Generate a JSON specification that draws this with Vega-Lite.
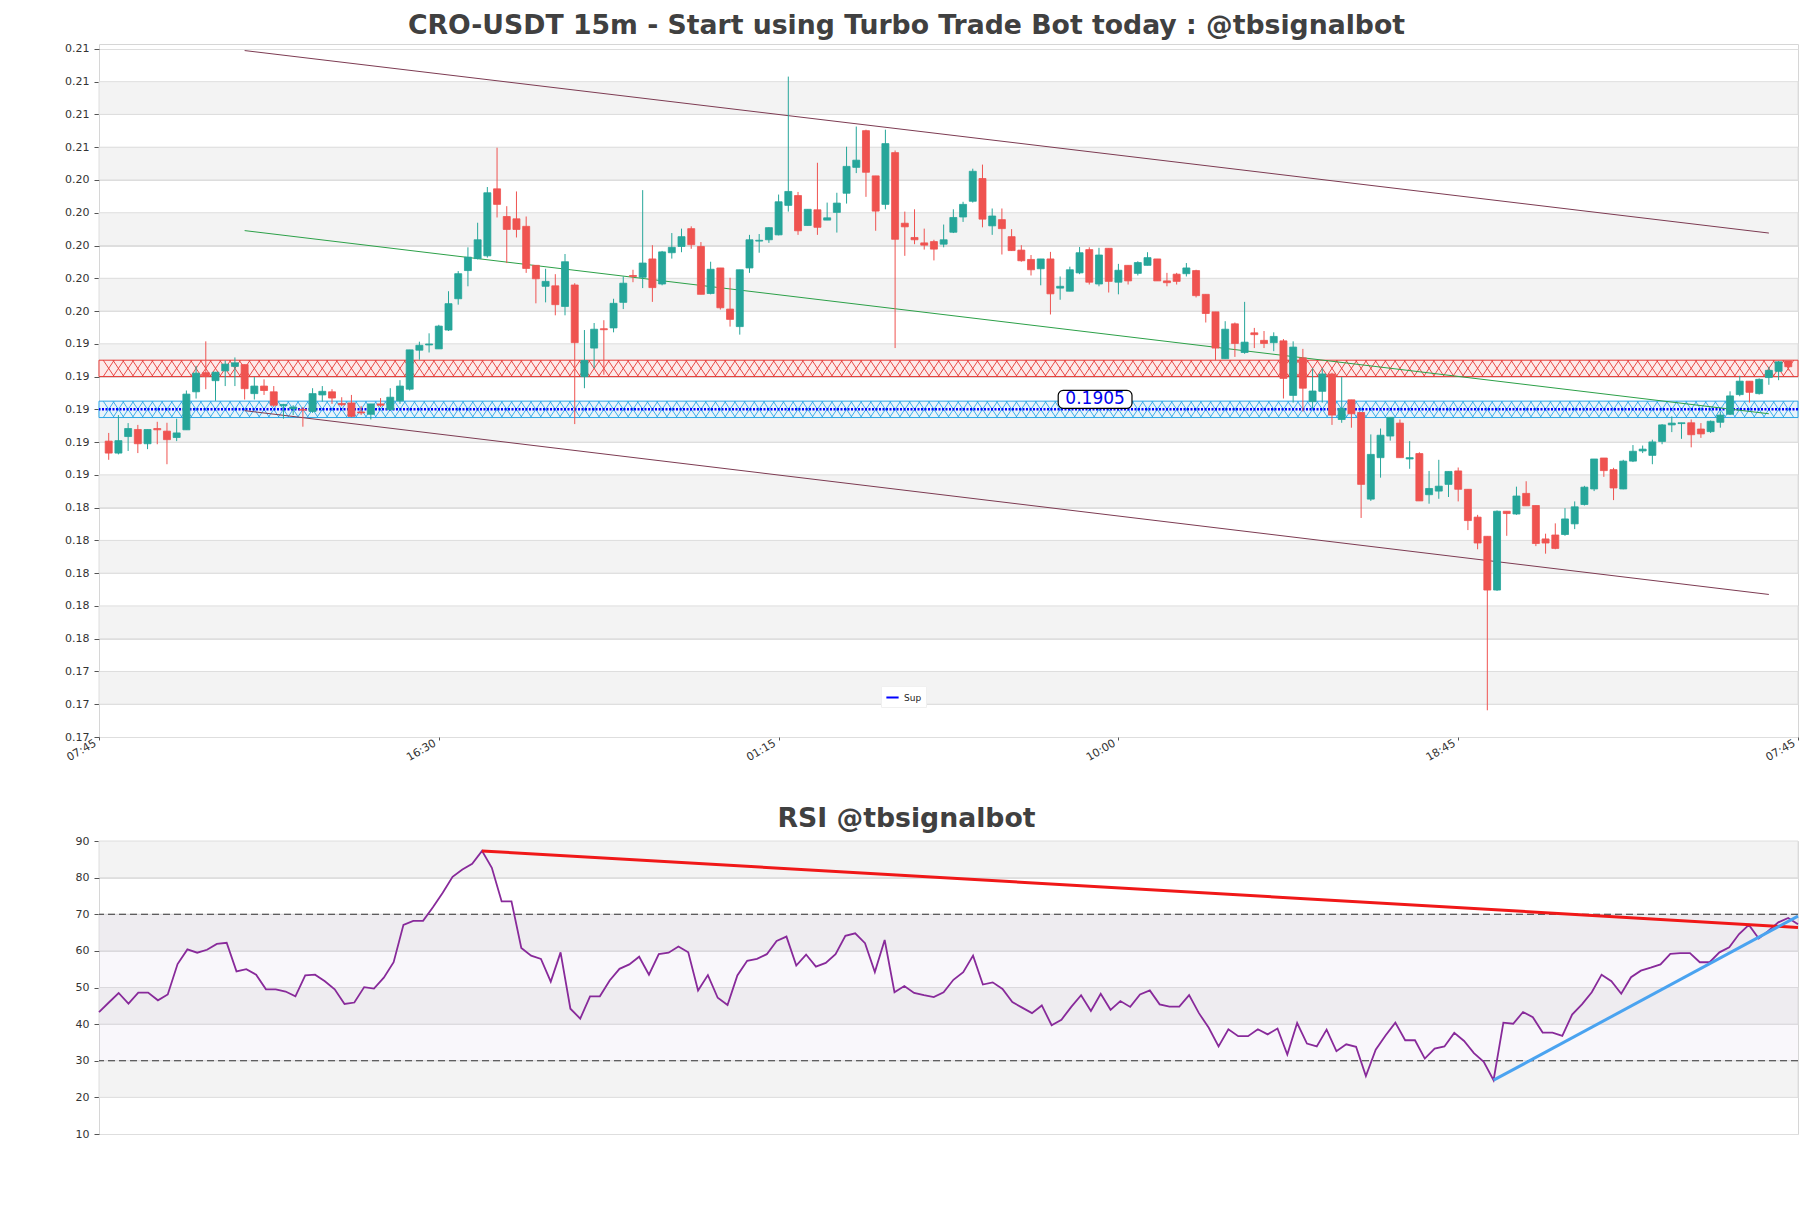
{
"$schema":"https://vega.github.io/schema/vega-lite/v6.json",
"background":"white",
"autosize":{"type":"pad"},
"padding":{"left":58,"top":12,"right":14,"bottom":10},
"bounds":"flush",
"spacing":104,
"config":{
 "font":"DejaVu Sans",
 "view":{"stroke":"#d6d6d6","strokeWidth":1},
 "scale":{"continuousPadding":0},
 "axis":{"labelFont":"DejaVu Sans","labelFontSize":11,"labelColor":"#333333","tickColor":"#555555","tickSize":5,"labelPadding":5,"domain":false,"grid":false,"labelOverlap":false},
 "title":{"font":"DejaVu Sans","fontSize":26.7,"fontWeight":"bold","color":"#404040","anchor":"middle","frame":"group"},
 "legend":{"labelFont":"DejaVu Sans"}
},
"datasets":{
 "candles":[
{"i":1,"o":0.18856,"h":0.18906,"l":0.18742,"c":0.18783,"rsi":43.3},
{"i":2,"o":0.18783,"h":0.19015,"l":0.18775,"c":0.18859,"rsi":45.9},
{"i":3,"o":0.18884,"h":0.18966,"l":0.18796,"c":0.18933,"rsi":48.5},
{"i":4,"o":0.18927,"h":0.18955,"l":0.18783,"c":0.18840,"rsi":45.6},
{"i":5,"o":0.18840,"h":0.18927,"l":0.18807,"c":0.18927,"rsi":48.6},
{"i":6,"o":0.18933,"h":0.18974,"l":0.18837,"c":0.18925,"rsi":48.6},
{"i":7,"o":0.18917,"h":0.18968,"l":0.18715,"c":0.18865,"rsi":46.5},
{"i":8,"o":0.18878,"h":0.18993,"l":0.18856,"c":0.18906,"rsi":48.1},
{"i":9,"o":0.18925,"h":0.19165,"l":0.18925,"c":0.19143,"rsi":56.4},
{"i":10,"o":0.19157,"h":0.19315,"l":0.19116,"c":0.19271,"rsi":60.4},
{"i":11,"o":0.19274,"h":0.19465,"l":0.19173,"c":0.19252,"rsi":59.5},
{"i":12,"o":0.19225,"h":0.19277,"l":0.19102,"c":0.19277,"rsi":60.3},
{"i":13,"o":0.19285,"h":0.19348,"l":0.19192,"c":0.19326,"rsi":61.9},
{"i":14,"o":0.19312,"h":0.19367,"l":0.19192,"c":0.19334,"rsi":62.2},
{"i":15,"o":0.19323,"h":0.19323,"l":0.19110,"c":0.19176,"rsi":54.4},
{"i":16,"o":0.19146,"h":0.19247,"l":0.19110,"c":0.19192,"rsi":55.0},
{"i":17,"o":0.19192,"h":0.19233,"l":0.19138,"c":0.19165,"rsi":53.5},
{"i":18,"o":0.19157,"h":0.19192,"l":0.19064,"c":0.19075,"rsi":49.5},
{"i":19,"o":0.19072,"h":0.19083,"l":0.18993,"c":0.19080,"rsi":49.5},
{"i":20,"o":0.19053,"h":0.19075,"l":0.19015,"c":0.19064,"rsi":48.9},
{"i":21,"o":0.19050,"h":0.19064,"l":0.18944,"c":0.19045,"rsi":47.6},
{"i":22,"o":0.19037,"h":0.19179,"l":0.19028,"c":0.19146,"rsi":53.3},
{"i":23,"o":0.19138,"h":0.19192,"l":0.19097,"c":0.19160,"rsi":53.5},
{"i":24,"o":0.19157,"h":0.19173,"l":0.19083,"c":0.19119,"rsi":51.7},
{"i":25,"o":0.19086,"h":0.19124,"l":0.19069,"c":0.19078,"rsi":49.5},
{"i":26,"o":0.19089,"h":0.19138,"l":0.19001,"c":0.19007,"rsi":45.5},
{"i":27,"o":0.19034,"h":0.19069,"l":0.19015,"c":0.19028,"rsi":45.9},
{"i":28,"o":0.19020,"h":0.19083,"l":0.18988,"c":0.19083,"rsi":50.1},
{"i":29,"o":0.19083,"h":0.19119,"l":0.19064,"c":0.19075,"rsi":49.7},
{"i":30,"o":0.19048,"h":0.19179,"l":0.19042,"c":0.19124,"rsi":52.7},
{"i":31,"o":0.19102,"h":0.19228,"l":0.19083,"c":0.19192,"rsi":56.9},
{"i":32,"o":0.19173,"h":0.19413,"l":0.19165,"c":0.19413,"rsi":67.1},
{"i":33,"o":0.19411,"h":0.19463,"l":0.19353,"c":0.19441,"rsi":68.2},
{"i":34,"o":0.19443,"h":0.19514,"l":0.19397,"c":0.19449,"rsi":68.2},
{"i":35,"o":0.19419,"h":0.19566,"l":0.19419,"c":0.19558,"rsi":71.9},
{"i":36,"o":0.19534,"h":0.19771,"l":0.19528,"c":0.19695,"rsi":75.9},
{"i":37,"o":0.19725,"h":0.19894,"l":0.19689,"c":0.19878,"rsi":80.2},
{"i":38,"o":0.19897,"h":0.20039,"l":0.19801,"c":0.19979,"rsi":82.2},
{"i":39,"o":0.19970,"h":0.20189,"l":0.19965,"c":0.20085,"rsi":83.8},
{"i":40,"o":0.19987,"h":0.20407,"l":0.19976,"c":0.20372,"rsi":87.3},
{"i":41,"o":0.20396,"h":0.20647,"l":0.20221,"c":0.20301,"rsi":82.7},
{"i":42,"o":0.20227,"h":0.20290,"l":0.19943,"c":0.20148,"rsi":73.5},
{"i":43,"o":0.20213,"h":0.20380,"l":0.20099,"c":0.20148,"rsi":73.5},
{"i":44,"o":0.20167,"h":0.20227,"l":0.19883,"c":0.19910,"rsi":60.8},
{"i":45,"o":0.19929,"h":0.19929,"l":0.19697,"c":0.19847,"rsi":58.7},
{"i":46,"o":0.19801,"h":0.19908,"l":0.19703,"c":0.19831,"rsi":57.8},
{"i":47,"o":0.19804,"h":0.19875,"l":0.19624,"c":0.19689,"rsi":51.6},
{"i":48,"o":0.19678,"h":0.19998,"l":0.19624,"c":0.19951,"rsi":59.6},
{"i":49,"o":0.19809,"h":0.19820,"l":0.18960,"c":0.19457,"rsi":44.2},
{"i":50,"o":0.19250,"h":0.19534,"l":0.19179,"c":0.19348,"rsi":41.5},
{"i":51,"o":0.19424,"h":0.19577,"l":0.19301,"c":0.19539,"rsi":47.6},
{"i":52,"o":0.19542,"h":0.19594,"l":0.19261,"c":0.19536,"rsi":47.6},
{"i":53,"o":0.19547,"h":0.19725,"l":0.19520,"c":0.19697,"rsi":51.9},
{"i":54,"o":0.19703,"h":0.19861,"l":0.19662,"c":0.19820,"rsi":55.1},
{"i":55,"o":0.19867,"h":0.19902,"l":0.19826,"c":0.19861,"rsi":56.3},
{"i":56,"o":0.19856,"h":0.20388,"l":0.19790,"c":0.19943,"rsi":58.4},
{"i":57,"o":0.19968,"h":0.20052,"l":0.19706,"c":0.19793,"rsi":53.5},
{"i":58,"o":0.19815,"h":0.20017,"l":0.19807,"c":0.20011,"rsi":59.1},
{"i":59,"o":0.20006,"h":0.20126,"l":0.19970,"c":0.20039,"rsi":59.5},
{"i":60,"o":0.20044,"h":0.20153,"l":0.20009,"c":0.20104,"rsi":61.2},
{"i":61,"o":0.20153,"h":0.20167,"l":0.20030,"c":0.20055,"rsi":59.6},
{"i":62,"o":0.20044,"h":0.20071,"l":0.19752,"c":0.19752,"rsi":49.2},
{"i":63,"o":0.19757,"h":0.19951,"l":0.19752,"c":0.19905,"rsi":53.4},
{"i":64,"o":0.19913,"h":0.19913,"l":0.19659,"c":0.19670,"rsi":47.2},
{"i":65,"o":0.19662,"h":0.19853,"l":0.19555,"c":0.19599,"rsi":45.2},
{"i":66,"o":0.19555,"h":0.19902,"l":0.19506,"c":0.19902,"rsi":53.3},
{"i":67,"o":0.19913,"h":0.20115,"l":0.19883,"c":0.20085,"rsi":57.3},
{"i":68,"o":0.20077,"h":0.20120,"l":0.20006,"c":0.20082,"rsi":57.8},
{"i":69,"o":0.20085,"h":0.20161,"l":0.20066,"c":0.20159,"rsi":59.1},
{"i":70,"o":0.20115,"h":0.20361,"l":0.20112,"c":0.20317,"rsi":62.7},
{"i":71,"o":0.20295,"h":0.21081,"l":0.20257,"c":0.20380,"rsi":63.9},
{"i":72,"o":0.20355,"h":0.20377,"l":0.20115,"c":0.20140,"rsi":56.0},
{"i":73,"o":0.20172,"h":0.20271,"l":0.20172,"c":0.20271,"rsi":59.0},
{"i":74,"o":0.20268,"h":0.20555,"l":0.20115,"c":0.20161,"rsi":55.7},
{"i":75,"o":0.20205,"h":0.20312,"l":0.20205,"c":0.20219,"rsi":56.7},
{"i":76,"o":0.20252,"h":0.20372,"l":0.20129,"c":0.20309,"rsi":59.1},
{"i":77,"o":0.20369,"h":0.20653,"l":0.20306,"c":0.20533,"rsi":64.1},
{"i":78,"o":0.20527,"h":0.20776,"l":0.20492,"c":0.20571,"rsi":64.8},
{"i":79,"o":0.20751,"h":0.20757,"l":0.20347,"c":0.20497,"rsi":62.1},
{"i":80,"o":0.20475,"h":0.20475,"l":0.20140,"c":0.20260,"rsi":54.2},
{"i":81,"o":0.20301,"h":0.20757,"l":0.20271,"c":0.20672,"rsi":63.0},
{"i":82,"o":0.20617,"h":0.20630,"l":0.19424,"c":0.20088,"rsi":48.7},
{"i":83,"o":0.20186,"h":0.20257,"l":0.19987,"c":0.20164,"rsi":50.4},
{"i":84,"o":0.20099,"h":0.20271,"l":0.20058,"c":0.20085,"rsi":48.5},
{"i":85,"o":0.20066,"h":0.20153,"l":0.20025,"c":0.20052,"rsi":47.9},
{"i":86,"o":0.20074,"h":0.20085,"l":0.19959,"c":0.20028,"rsi":47.4},
{"i":87,"o":0.20058,"h":0.20178,"l":0.20039,"c":0.20085,"rsi":48.7},
{"i":88,"o":0.20131,"h":0.20271,"l":0.20126,"c":0.20221,"rsi":52.1},
{"i":89,"o":0.20224,"h":0.20317,"l":0.20194,"c":0.20301,"rsi":54.2},
{"i":90,"o":0.20320,"h":0.20519,"l":0.20312,"c":0.20503,"rsi":58.7},
{"i":91,"o":0.20459,"h":0.20544,"l":0.20161,"c":0.20211,"rsi":50.8},
{"i":92,"o":0.20170,"h":0.20276,"l":0.20115,"c":0.20230,"rsi":51.4},
{"i":93,"o":0.20208,"h":0.20276,"l":0.19995,"c":0.20153,"rsi":49.6},
{"i":94,"o":0.20104,"h":0.20150,"l":0.20017,"c":0.20019,"rsi":46.0},
{"i":95,"o":0.20022,"h":0.20052,"l":0.19951,"c":0.19957,"rsi":44.5},
{"i":96,"o":0.19965,"h":0.19992,"l":0.19867,"c":0.19902,"rsi":43.0},
{"i":97,"o":0.19908,"h":0.19968,"l":0.19807,"c":0.19968,"rsi":45.1},
{"i":98,"o":0.19968,"h":0.20011,"l":0.19629,"c":0.19755,"rsi":39.7},
{"i":99,"o":0.19790,"h":0.19861,"l":0.19719,"c":0.19801,"rsi":41.2},
{"i":100,"o":0.19771,"h":0.19921,"l":0.19771,"c":0.19902,"rsi":44.7},
{"i":101,"o":0.19883,"h":0.20041,"l":0.19875,"c":0.20006,"rsi":47.9},
{"i":102,"o":0.20025,"h":0.20039,"l":0.19812,"c":0.19826,"rsi":43.6},
{"i":103,"o":0.19815,"h":0.20036,"l":0.19801,"c":0.19992,"rsi":48.3},
{"i":104,"o":0.20033,"h":0.20033,"l":0.19763,"c":0.19831,"rsi":43.9},
{"i":105,"o":0.19826,"h":0.19938,"l":0.19752,"c":0.19899,"rsi":46.3},
{"i":106,"o":0.19929,"h":0.19929,"l":0.19812,"c":0.19834,"rsi":44.7},
{"i":107,"o":0.19880,"h":0.19954,"l":0.19867,"c":0.19946,"rsi":48.1},
{"i":108,"o":0.19929,"h":0.20009,"l":0.19929,"c":0.19976,"rsi":49.2},
{"i":109,"o":0.19968,"h":0.19968,"l":0.19834,"c":0.19834,"rsi":45.4},
{"i":110,"o":0.19834,"h":0.19883,"l":0.19801,"c":0.19823,"rsi":44.8},
{"i":111,"o":0.19875,"h":0.19883,"l":0.19812,"c":0.19831,"rsi":44.8},
{"i":112,"o":0.19878,"h":0.19943,"l":0.19861,"c":0.19913,"rsi":47.9},
{"i":113,"o":0.19897,"h":0.19902,"l":0.19733,"c":0.19744,"rsi":43.0},
{"i":114,"o":0.19752,"h":0.19752,"l":0.19580,"c":0.19635,"rsi":39.0},
{"i":115,"o":0.19645,"h":0.19645,"l":0.19348,"c":0.19424,"rsi":33.9},
{"i":116,"o":0.19359,"h":0.19588,"l":0.19359,"c":0.19539,"rsi":38.6},
{"i":117,"o":0.19572,"h":0.19580,"l":0.19370,"c":0.19452,"rsi":36.7},
{"i":118,"o":0.19397,"h":0.19706,"l":0.19389,"c":0.19460,"rsi":36.7},
{"i":119,"o":0.19517,"h":0.19547,"l":0.19424,"c":0.19506,"rsi":38.6},
{"i":120,"o":0.19471,"h":0.19528,"l":0.19424,"c":0.19452,"rsi":37.2},
{"i":121,"o":0.19457,"h":0.19520,"l":0.19405,"c":0.19495,"rsi":38.8},
{"i":122,"o":0.19468,"h":0.19479,"l":0.19116,"c":0.19239,"rsi":31.7},
{"i":123,"o":0.19135,"h":0.19465,"l":0.19091,"c":0.19430,"rsi":40.3},
{"i":124,"o":0.19364,"h":0.19419,"l":0.19037,"c":0.19179,"rsi":34.7},
{"i":125,"o":0.19097,"h":0.19301,"l":0.19053,"c":0.19162,"rsi":33.9},
{"i":126,"o":0.19160,"h":0.19301,"l":0.19091,"c":0.19266,"rsi":38.5},
{"i":127,"o":0.19266,"h":0.19274,"l":0.18955,"c":0.19015,"rsi":32.6},
{"i":128,"o":0.18988,"h":0.19247,"l":0.18968,"c":0.19056,"rsi":34.5},
{"i":129,"o":0.19108,"h":0.19108,"l":0.18938,"c":0.19023,"rsi":33.8},
{"i":130,"o":0.19031,"h":0.19031,"l":0.18387,"c":0.18592,"rsi":25.8},
{"i":131,"o":0.18502,"h":0.18897,"l":0.18491,"c":0.18775,"rsi":33.0},
{"i":132,"o":0.18755,"h":0.18933,"l":0.18633,"c":0.18892,"rsi":36.9},
{"i":133,"o":0.18887,"h":0.19001,"l":0.18859,"c":0.19001,"rsi":40.4},
{"i":134,"o":0.18966,"h":0.18988,"l":0.18755,"c":0.18755,"rsi":35.6},
{"i":135,"o":0.18747,"h":0.18856,"l":0.18687,"c":0.18755,"rsi":35.6},
{"i":136,"o":0.18780,"h":0.18788,"l":0.18491,"c":0.18491,"rsi":30.6},
{"i":137,"o":0.18529,"h":0.18674,"l":0.18474,"c":0.18567,"rsi":33.3},
{"i":138,"o":0.18551,"h":0.18742,"l":0.18504,"c":0.18581,"rsi":33.9},
{"i":139,"o":0.18592,"h":0.18671,"l":0.18515,"c":0.18671,"rsi":37.6},
{"i":140,"o":0.18674,"h":0.18695,"l":0.18488,"c":0.18562,"rsi":35.4},
{"i":141,"o":0.18562,"h":0.18562,"l":0.18313,"c":0.18371,"rsi":32.1},
{"i":142,"o":0.18392,"h":0.18406,"l":0.18196,"c":0.18234,"rsi":29.7},
{"i":143,"o":0.18275,"h":0.18275,"l":0.17213,"c":0.17947,"rsi":24.7},
{"i":144,"o":0.17947,"h":0.18433,"l":0.17942,"c":0.18428,"rsi":40.4},
{"i":145,"o":0.18428,"h":0.18428,"l":0.18278,"c":0.18414,"rsi":40.1},
{"i":146,"o":0.18411,"h":0.18578,"l":0.18406,"c":0.18521,"rsi":43.3},
{"i":147,"o":0.18537,"h":0.18611,"l":0.18461,"c":0.18461,"rsi":41.9},
{"i":148,"o":0.18463,"h":0.18463,"l":0.18215,"c":0.18231,"rsi":37.7},
{"i":149,"o":0.18259,"h":0.18291,"l":0.18169,"c":0.18234,"rsi":37.7},
{"i":150,"o":0.18283,"h":0.18354,"l":0.18196,"c":0.18201,"rsi":36.8},
{"i":151,"o":0.18286,"h":0.18447,"l":0.18278,"c":0.18381,"rsi":42.6},
{"i":152,"o":0.18351,"h":0.18488,"l":0.18319,"c":0.18455,"rsi":45.4},
{"i":153,"o":0.18469,"h":0.18583,"l":0.18463,"c":0.18575,"rsi":48.7},
{"i":154,"o":0.18564,"h":0.18747,"l":0.18551,"c":0.18747,"rsi":53.5},
{"i":155,"o":0.18753,"h":0.18753,"l":0.18638,"c":0.18676,"rsi":51.7},
{"i":156,"o":0.18682,"h":0.18693,"l":0.18496,"c":0.18570,"rsi":48.3},
{"i":157,"o":0.18564,"h":0.18742,"l":0.18562,"c":0.18734,"rsi":52.8},
{"i":158,"o":0.18734,"h":0.18832,"l":0.18728,"c":0.18794,"rsi":54.6},
{"i":159,"o":0.18796,"h":0.18829,"l":0.18783,"c":0.18807,"rsi":55.4},
{"i":160,"o":0.18769,"h":0.18865,"l":0.18715,"c":0.18851,"rsi":56.3},
{"i":161,"o":0.18854,"h":0.18960,"l":0.18837,"c":0.18955,"rsi":59.2},
{"i":162,"o":0.18955,"h":0.19007,"l":0.18911,"c":0.18966,"rsi":59.4},
{"i":163,"o":0.18963,"h":0.18968,"l":0.18870,"c":0.18968,"rsi":59.4},
{"i":164,"o":0.18968,"h":0.18988,"l":0.18818,"c":0.18895,"rsi":56.9},
{"i":165,"o":0.18930,"h":0.18966,"l":0.18876,"c":0.18900,"rsi":56.9},
{"i":166,"o":0.18914,"h":0.18982,"l":0.18906,"c":0.18977,"rsi":59.6},
{"i":167,"o":0.18971,"h":0.19037,"l":0.18938,"c":0.19015,"rsi":61.0},
{"i":168,"o":0.19020,"h":0.19160,"l":0.19015,"c":0.19132,"rsi":64.6},
{"i":169,"o":0.19140,"h":0.19255,"l":0.19130,"c":0.19222,"rsi":67.1},
{"i":170,"o":0.19222,"h":0.19222,"l":0.19091,"c":0.19154,"rsi":63.4},
{"i":171,"o":0.19146,"h":0.19239,"l":0.19140,"c":0.19233,"rsi":65.5},
{"i":172,"o":0.19244,"h":0.19310,"l":0.19200,"c":0.19288,"rsi":67.8},
{"i":173,"o":0.19282,"h":0.19345,"l":0.19228,"c":0.19340,"rsi":69.0},
{"i":174,"o":0.19345,"h":0.19345,"l":0.19288,"c":0.19310,"rsi":67.3}
 ],
 "bands":[
  {"lo":0.1725,"hi":0.1745},{"lo":0.1765,"hi":0.1785},{"lo":0.1805,"hi":0.1825},{"lo":0.1845,"hi":0.1865},{"lo":0.1885,"hi":0.1905},
  {"lo":0.1925,"hi":0.1945},{"lo":0.1965,"hi":0.1985},{"lo":0.2005,"hi":0.2025},{"lo":0.2045,"hi":0.2065},{"lo":0.2085,"hi":0.2105}
 ],
 "zones":[{"zone":"res","lo":0.1925,"hi":0.1935},{"zone":"sup","lo":0.1900,"hi":0.1910}],
 "levels":[{"name":"Sup","price":0.1905}],
 "channel":[
  {"line":"upper","i":15,"p":0.2124},{"line":"upper","i":172,"p":0.20126},
  {"line":"lower","i":15,"p":0.19042},{"line":"lower","i":172,"p":0.1792},
  {"line":"mid","i":15,"p":0.20141},{"line":"mid","i":172,"p":0.19023}
 ],
 "annot":[{"label":"0.1905","price":0.1905}],
 "rsiBands":[{"lo":80,"hi":90},{"lo":60,"hi":70},{"lo":40,"hi":50},{"lo":20,"hi":30}],
 "rsiZone":[{"lo":30,"hi":70}],
 "rsiLevels":[{"v":30},{"v":70}],
 "rsiTrend":[{"t":"down","i":40,"v":87.3},{"t":"down","i":174,"v":66.4},{"t":"up","i":143,"v":24.7},{"t":"up","i":174,"v":69.5}]
},
"vconcat":[
 {
  "width":1699,"height":693,
  "title":{"text":"CRO-USDT 15m - Start using Turbo Trade Bot today : @tbsignalbot","offset":3,"dx":-42},
  "layer":[
   {"data":{"name":"bands"},"mark":{"type":"rect","fill":"#f3f3f3","stroke":"#dedede","strokeWidth":1},
    "encoding":{
     "x":{"datum":0,"type":"quantitative","scale":{"domain":[0,175],"nice":false,"zero":false,"padding":0},"title":null},
     "x2":{"datum":175},
     "y":{"field":"lo","type":"quantitative","scale":{"domain":[0.1705,0.2128],"nice":false,"zero":false,"padding":0},"title":null},
     "y2":{"field":"hi"}}},
   {"data":{"name":"zones"},"mark":{"type":"rect","strokeWidth":1},
    "encoding":{
     "x":{"datum":0,"type":"quantitative","scale":{"domain":[0,175],"nice":false,"zero":false,"padding":0},"title":null},
     "x2":{"datum":175},
     "y":{"field":"lo","type":"quantitative","scale":{"domain":[0.1705,0.2128],"nice":false,"zero":false,"padding":0},"title":null},
     "y2":{"field":"hi"},
     "fill":{"condition":{"test":"datum.zone == 'res'","value":"#fdeaea"},"value":"#e6f3fb"},
     "stroke":{"condition":{"test":"datum.zone == 'res'","value":"#e53935"},"value":"#2aa6e6"}}},
   {"data":{"name":"candles"},"mark":{"type":"point","shape":"M-1,-1.5L1,1.5M-1,1.5L1,-1.5","size":118,"filled":false,"stroke":"#e53935","strokeWidth":0.9,"opacity":1},
    "encoding":{
     "x":{"field":"i","type":"quantitative","scale":{"domain":[0,175],"nice":false,"zero":false,"padding":0},"title":null},
     "y":{"datum":0.193,"type":"quantitative","scale":{"domain":[0.1705,0.2128],"nice":false,"zero":false,"padding":0},"title":null}}},
   {"data":{"name":"candles"},"mark":{"type":"point","shape":"M-1,-1.5L1,1.5M-1,1.5L1,-1.5","size":118,"filled":false,"stroke":"#2aa6e6","strokeWidth":0.9,"opacity":1},
    "encoding":{
     "x":{"field":"i","type":"quantitative","scale":{"domain":[0,175],"nice":false,"zero":false,"padding":0},"title":null},
     "y":{"datum":0.1905,"type":"quantitative","scale":{"domain":[0.1705,0.2128],"nice":false,"zero":false,"padding":0},"title":null}}},
   {"data":{"name":"levels"},"mark":{"type":"rule","strokeWidth":2.5,"strokeDash":[2,1.5]},
    "encoding":{
     "y":{"field":"price","type":"quantitative","scale":{"domain":[0.1705,0.2128],"nice":false,"zero":false,"padding":0},"title":null},
     "color":{"field":"name","type":"nominal","scale":{"domain":["Sup"],"range":["#0000ff"]},
      "legend":{"orient":"none","legendX":782,"legendY":642,"title":null,"symbolType":"stroke","symbolStrokeWidth":2,"symbolSize":150,"symbolDash":[1,0],"labelFontSize":9,"labelColor":"#222222","fillColor":"#ffffff","padding":4,"strokeColor":"#f0f0f0"}}}},
   {"data":{"name":"channel"},"transform":[{"filter":"datum.line != 'mid'"}],"mark":{"type":"line","stroke":"#7d3b52","strokeWidth":1},
    "encoding":{
     "x":{"field":"i","type":"quantitative","scale":{"domain":[0,175],"nice":false,"zero":false,"padding":0},"title":null},
     "y":{"field":"p","type":"quantitative","scale":{"domain":[0.1705,0.2128],"nice":false,"zero":false,"padding":0},"title":null},
     "detail":{"field":"line"}}},
   {"data":{"name":"channel"},"transform":[{"filter":"datum.line == 'mid'"}],"mark":{"type":"line","stroke":"#2ca048","strokeWidth":1},
    "encoding":{
     "x":{"field":"i","type":"quantitative","scale":{"domain":[0,175],"nice":false,"zero":false,"padding":0},"title":null},
     "y":{"field":"p","type":"quantitative","scale":{"domain":[0.1705,0.2128],"nice":false,"zero":false,"padding":0},"title":null}}},
   {"data":{"name":"candles"},"mark":{"type":"rule","strokeWidth":1},
    "encoding":{
     "x":{"field":"i","type":"quantitative","scale":{"domain":[0,175],"nice":false,"zero":false,"padding":0},"title":null,
      "axis":{"values":[0,35,70,105,140,175],"tickCount":40,"labelExpr":"datum.value == 0 ? '07:45' : datum.value == 35 ? '16:30' : datum.value == 70 ? '01:15' : datum.value == 105 ? '10:00' : datum.value == 140 ? '18:45' : '07:45'","labelAngle":-30,"labelAlign":"right","labelBaseline":"top","tickSize":3,"labelPadding":-3,"labelOffset":-7,"grid":false,"labelFontSize":11,"labelColor":"#333333"}},
     "y":{"field":"l","type":"quantitative","scale":{"domain":[0.1705,0.2128],"nice":false,"zero":false,"padding":0},"title":null,
      "axis":{"values":[0.1705,0.1725,0.1745,0.1765,0.1785,0.1805,0.1825,0.1845,0.1865,0.1885,0.1905,0.1925,0.1945,0.1965,0.1985,0.2005,0.2025,0.2045,0.2065,0.2085,0.2105,0.2125],"tickCount":40,"format":".2f","grid":true,"gridColor":"#dedede","minExtent":40,"maxExtent":40,"labelOverlap":false}},
     "y2":{"field":"h"},
     "color":{"condition":{"test":"datum.c >= datum.o","value":"#26a69a"},"value":"#ef5350"}}},
   {"data":{"name":"candles"},"mark":{"type":"bar","width":7,"strokeWidth":0.8},
    "encoding":{
     "x":{"field":"i","type":"quantitative","scale":{"domain":[0,175],"nice":false,"zero":false,"padding":0},"title":null},
     "y":{"field":"o","type":"quantitative","scale":{"domain":[0.1705,0.2128],"nice":false,"zero":false,"padding":0},"title":null},
     "y2":{"field":"c"},
     "fill":{"condition":{"test":"datum.c >= datum.o","value":"#26a69a"},"value":"#ef5350"},
     "stroke":{"condition":{"test":"datum.c >= datum.o","value":"#26a69a"},"value":"#ef5350"}}},
   {"data":{"name":"annot"},"mark":{"type":"rect","fill":"#ffffff","stroke":"#000000","strokeWidth":1.2,"cornerRadius":5},
    "encoding":{
     "x":{"datum":98.8,"type":"quantitative","scale":{"domain":[0,175],"nice":false,"zero":false,"padding":0},"title":null},
     "x2":{"datum":106.4},
     "y":{"datum":0.19056,"type":"quantitative","scale":{"domain":[0.1705,0.2128],"nice":false,"zero":false,"padding":0},"title":null},
     "y2":{"datum":0.19166}}},
   {"data":{"name":"annot"},"mark":{"type":"text","fontSize":17,"color":"#0000ee","baseline":"middle","align":"center","font":"DejaVu Sans"},
    "encoding":{
     "x":{"datum":102.6,"type":"quantitative","scale":{"domain":[0,175],"nice":false,"zero":false,"padding":0},"title":null},
     "y":{"datum":0.19111,"type":"quantitative","scale":{"domain":[0.1705,0.2128],"nice":false,"zero":false,"padding":0},"title":null},
     "text":{"field":"label"}}}
  ]
 },
 {
  "width":1699,"height":293,
  "title":{"text":"RSI @tbsignalbot","offset":2,"dx":-42},
  "layer":[
   {"data":{"name":"rsiBands"},"mark":{"type":"rect","fill":"#f3f3f3","stroke":"#dedede","strokeWidth":1},
    "encoding":{
     "x":{"datum":1,"type":"quantitative","scale":{"domain":[1,174],"nice":false,"zero":false,"padding":0},"axis":null,"title":null},
     "x2":{"datum":174},
     "y":{"field":"lo","type":"quantitative","scale":{"domain":[10,90],"nice":false,"zero":false,"padding":0},"title":null,
      "axis":{"values":[10,20,30,40,50,60,70,80,90],"tickCount":40,"grid":true,"gridColor":"#dedede","minExtent":40,"maxExtent":40,"labelOverlap":false}},
     "y2":{"field":"hi"}}},
   {"data":{"name":"rsiZone"},"mark":{"type":"rect","fill":"#c4b2d6","fillOpacity":0.1},
    "encoding":{
     "x":{"datum":1,"type":"quantitative","scale":{"domain":[1,174],"nice":false,"zero":false,"padding":0},"axis":null,"title":null},
     "x2":{"datum":174},
     "y":{"field":"lo","type":"quantitative","scale":{"domain":[10,90],"nice":false,"zero":false,"padding":0},"title":null},
     "y2":{"field":"hi"}}},
   {"data":{"name":"rsiLevels"},"mark":{"type":"rule","stroke":"#333333","strokeDash":[7,4],"strokeWidth":1.2},
    "encoding":{
     "y":{"field":"v","type":"quantitative","scale":{"domain":[10,90],"nice":false,"zero":false,"padding":0},"title":null}}},
   {"data":{"name":"candles"},"mark":{"type":"line","stroke":"#882a9a","strokeWidth":1.8},
    "encoding":{
     "x":{"field":"i","type":"quantitative","scale":{"domain":[1,174],"nice":false,"zero":false,"padding":0},"axis":null,"title":null},
     "y":{"field":"rsi","type":"quantitative","scale":{"domain":[10,90],"nice":false,"zero":false,"padding":0},"title":null}}},
   {"data":{"name":"rsiTrend"},"transform":[{"filter":"datum.t == 'down'"}],"mark":{"type":"line","stroke":"#f01818","strokeWidth":3},
    "encoding":{
     "x":{"field":"i","type":"quantitative","scale":{"domain":[1,174],"nice":false,"zero":false,"padding":0},"axis":null,"title":null},
     "y":{"field":"v","type":"quantitative","scale":{"domain":[10,90],"nice":false,"zero":false,"padding":0},"title":null}}},
   {"data":{"name":"rsiTrend"},"transform":[{"filter":"datum.t == 'up'"}],"mark":{"type":"line","stroke":"#4aa3f0","strokeWidth":3},
    "encoding":{
     "x":{"field":"i","type":"quantitative","scale":{"domain":[1,174],"nice":false,"zero":false,"padding":0},"axis":null,"title":null},
     "y":{"field":"v","type":"quantitative","scale":{"domain":[10,90],"nice":false,"zero":false,"padding":0},"title":null}}}
  ]
 }
]
}
